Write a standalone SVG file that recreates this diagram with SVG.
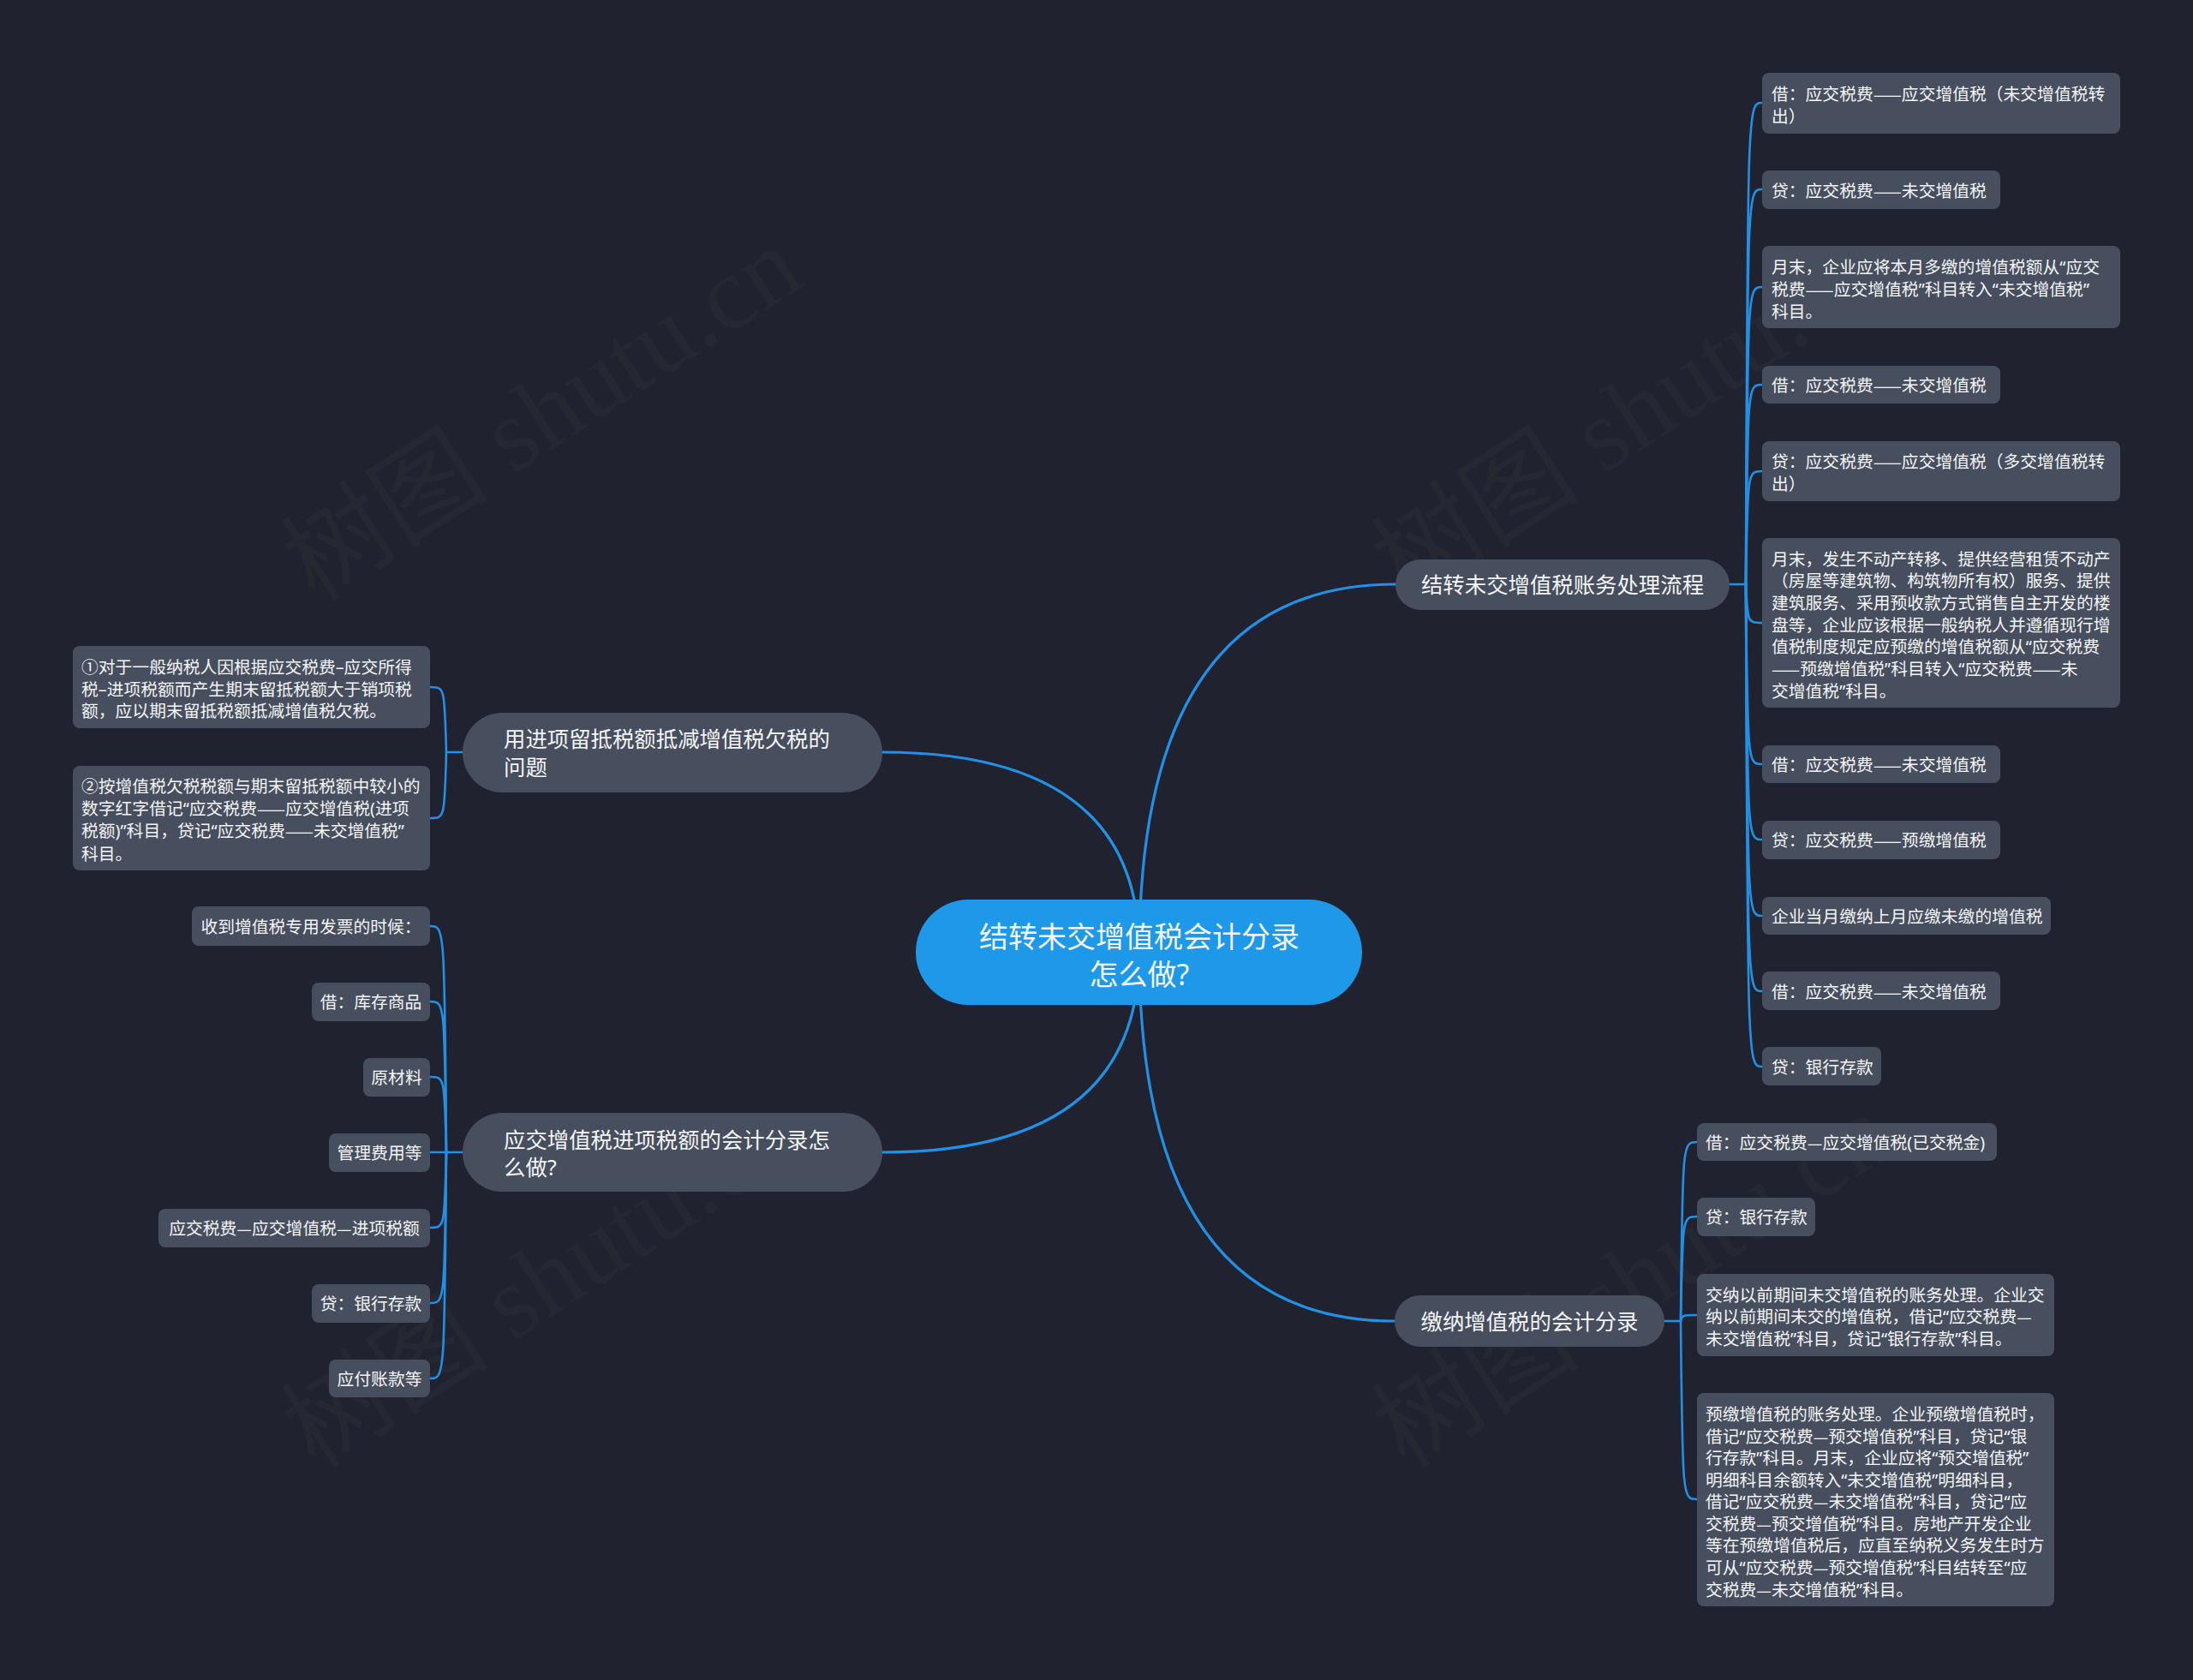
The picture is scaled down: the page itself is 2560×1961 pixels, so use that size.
<svg xmlns="http://www.w3.org/2000/svg" width="2560" height="1961" viewBox="0 0 2560 1961">
<defs>
<style>
.bg{fill:#20232f}
.nd{fill:#474e5e}
.ctr{fill:#1e98e9}
.ln{fill:none;stroke:#2290e4;stroke-width:2.6;stroke-linecap:round}
.mln{fill:none;stroke:#2290e4;stroke-width:3.2;stroke-linecap:round}
text{font-family:"Noto Sans","Noto Sans CJK SC",sans-serif;fill:#f4f5f7;dominant-baseline:central}
.d{font-family:"Noto Sans CJK SC",sans-serif}
.lt{font-size:19.8px}
.bt{font-size:25.4px}
.ct{font-size:34px;text-anchor:middle}
.mid{text-anchor:middle}
.wm{font-family:"Liberation Serif","Noto Sans CJK SC",serif;font-size:122px;fill:#ffffff;fill-opacity:0.025;dominant-baseline:alphabetic}
</style>
</defs>
<rect class="bg" x="0" y="0" width="2560" height="1961"/>
<g id="watermarks">
<text class="wm" transform="translate(368,704) rotate(-33)">树图 shutu.cn</text>
<text class="wm" transform="translate(1641,704) rotate(-33)">树图 shutu.cn</text>
<text class="wm" transform="translate(368,1716) rotate(-33)">树图 shutu.cn</text>
<text class="wm" transform="translate(1641,1716) rotate(-33)">树图 shutu.cn</text>
</g>
<g id="connectors">
<path class="mln" d="M1330 1111 Q1330 682 1629 682"/>
<path class="mln" d="M1330 1111 Q1330 1542 1628 1542"/>
<path class="mln" d="M1330 1111 Q1330 878 1030 878"/>
<path class="mln" d="M1330 1111 Q1330 1345 1030 1345"/>
<path class="ln" d="M2019 682 H2038"/>
<path class="ln" d="M2038 682 C2040 120,2040 120,2057 120"/>
<path class="ln" d="M2038 682 C2040 221,2040 221,2057 221"/>
<path class="ln" d="M2038 682 C2040 335,2040 335,2057 335"/>
<path class="ln" d="M2038 682 C2040 449,2040 449,2057 449"/>
<path class="ln" d="M2038 682 C2040 550,2040 550,2057 550"/>
<path class="ln" d="M2038 682 C2040 727,2040 727,2057 727"/>
<path class="ln" d="M2038 682 C2040 892,2040 892,2057 892"/>
<path class="ln" d="M2038 682 C2040 980,2040 980,2057 980"/>
<path class="ln" d="M2038 682 C2040 1069,2040 1069,2057 1069"/>
<path class="ln" d="M2038 682 C2040 1157,2040 1157,2057 1157"/>
<path class="ln" d="M2038 682 C2040 1245,2040 1245,2057 1245"/>
<path class="ln" d="M1943 1542 H1962"/>
<path class="ln" d="M1962 1542 C1964 1333,1964 1333,1981 1333"/>
<path class="ln" d="M1962 1542 C1964 1420,1964 1420,1981 1420"/>
<path class="ln" d="M1962 1542 C1964 1535,1964 1535,1981 1535"/>
<path class="ln" d="M1962 1542 C1964 1750,1964 1750,1981 1750"/>
<path class="ln" d="M540 878 H521"/>
<path class="ln" d="M521 878 C519 802,519 802,502 802"/>
<path class="ln" d="M521 878 C519 955,519 955,502 955"/>
<path class="ln" d="M540 1345 H521"/>
<path class="ln" d="M521 1345 C519 1081,519 1081,502 1081"/>
<path class="ln" d="M521 1345 C519 1169,519 1169,502 1169"/>
<path class="ln" d="M521 1345 C519 1257,519 1257,502 1257"/>
<path class="ln" d="M521 1345 C519 1345,519 1345,502 1345"/>
<path class="ln" d="M521 1345 C519 1433,519 1433,502 1433"/>
<path class="ln" d="M521 1345 C519 1521,519 1521,502 1521"/>
<path class="ln" d="M521 1345 C519 1609,519 1609,502 1609"/>
</g>
<g id="center">
<rect class="ctr" x="1069" y="1050" width="521" height="123" rx="61.5"/>
<text class="ct" x="1330" y="1093">结转未交增值税会计分录</text>
<text class="ct" x="1330" y="1137">怎么做?</text>
</g>
<g id="b1">
<rect class="nd" x="1629" y="653" width="390" height="59" rx="29.5"/>
<text class="bt mid" x="1824" y="682">结转未交增值税账务处理流程</text>
</g>
<g id="b2">
<rect class="nd" x="1628" y="1512" width="315" height="60" rx="30"/>
<text class="bt mid" x="1785.5" y="1542">缴纳增值税的会计分录</text>
</g>
<g id="b3">
<rect class="nd" x="540" y="832" width="490" height="93" rx="46.5"/>
<text class="bt" x="588" y="862">用进项留抵税额抵减增值税欠税的</text>
<text class="bt" x="588" y="895">问题</text>
</g>
<g id="b4">
<rect class="nd" x="540" y="1299" width="490" height="92" rx="46"/>
<text class="bt" x="588" y="1330">应交增值税进项税额的会计分录怎</text>
<text class="bt" x="588" y="1362">么做?</text>
</g>
<g id="b1l1"><rect class="nd" x="2057" y="85" width="418" height="71" rx="8"/>
<text class="lt" x="2068" y="109">借：应交税费<tspan class="d">——</tspan>应交增值税（未交增值税转</text>
<text class="lt" x="2068" y="135">出）</text></g>
<g id="b1l2"><rect class="nd" x="2057" y="199" width="278" height="45" rx="8"/>
<text class="lt" x="2068" y="222">贷：应交税费<tspan class="d">——</tspan>未交增值税</text></g>
<g id="b1l3"><rect class="nd" x="2057" y="287" width="418" height="96" rx="8"/>
<text class="lt" x="2068" y="311">月末，企业应将本月多缴的增值税额从“应交</text>
<text class="lt" x="2068" y="337">税费<tspan class="d">——</tspan>应交增值税”科目转入“未交增值税”</text>
<text class="lt" x="2068" y="363">科目。</text></g>
<g id="b1l4"><rect class="nd" x="2057" y="427" width="278" height="44" rx="8"/>
<text class="lt" x="2068" y="449">借：应交税费<tspan class="d">——</tspan>未交增值税</text></g>
<g id="b1l5"><rect class="nd" x="2057" y="515" width="418" height="70" rx="8"/>
<text class="lt" x="2068" y="538">贷：应交税费<tspan class="d">——</tspan>应交增值税（多交增值税转</text>
<text class="lt" x="2068" y="564">出）</text></g>
<g id="b1l6"><rect class="nd" x="2057" y="628" width="418" height="198" rx="8"/>
<text class="lt" x="2068" y="652">月末，发生不动产转移、提供经营租赁不动产</text>
<text class="lt" x="2068" y="677">（房屋等建筑物、构筑物所有权）服务、提供</text>
<text class="lt" x="2068" y="703">建筑服务、采用预收款方式销售自主开发的楼</text>
<text class="lt" x="2068" y="729">盘等，企业应该根据一般纳税人并遵循现行增</text>
<text class="lt" x="2068" y="754">值税制度规定应预缴的增值税额从“应交税费</text>
<text class="lt" x="2068" y="780"><tspan class="d">——</tspan>预缴增值税”科目转入“应交税费<tspan class="d">——</tspan>未</text>
<text class="lt" x="2068" y="806">交增值税”科目。</text></g>
<g id="b1l7"><rect class="nd" x="2057" y="870" width="278" height="44" rx="8"/>
<text class="lt" x="2068" y="892">借：应交税费<tspan class="d">——</tspan>未交增值税</text></g>
<g id="b1l8"><rect class="nd" x="2057" y="958" width="278" height="45" rx="8"/>
<text class="lt" x="2068" y="980">贷：应交税费<tspan class="d">——</tspan>预缴增值税</text></g>
<g id="b1l9"><rect class="nd" x="2057" y="1047" width="337" height="44" rx="8"/>
<text class="lt" x="2068" y="1069">企业当月缴纳上月应缴未缴的增值税</text></g>
<g id="b1l10"><rect class="nd" x="2057" y="1134" width="278" height="45" rx="8"/>
<text class="lt" x="2068" y="1157">借：应交税费<tspan class="d">——</tspan>未交增值税</text></g>
<g id="b1l11"><rect class="nd" x="2057" y="1222" width="139" height="45" rx="8"/>
<text class="lt" x="2068" y="1245">贷：银行存款</text></g>
<g id="b2l1"><rect class="nd" x="1981" y="1311" width="350" height="44" rx="8"/>
<text class="lt" x="1991" y="1333">借：应交税费<tspan class="d">—</tspan>应交增值税(已交税金)</text></g>
<g id="b2l2"><rect class="nd" x="1981" y="1398" width="138" height="45" rx="8"/>
<text class="lt" x="1991" y="1420">贷：银行存款</text></g>
<g id="b2l3"><rect class="nd" x="1981" y="1487" width="417" height="96" rx="8"/>
<text class="lt" x="1991" y="1511">交纳以前期间未交增值税的账务处理。企业交</text>
<text class="lt" x="1991" y="1536">纳以前期间未交的增值税，借记“应交税费<tspan class="d">—</tspan></text>
<text class="lt" x="1991" y="1562">未交增值税”科目，贷记“银行存款”科目。</text></g>
<g id="b2l4"><rect class="nd" x="1981" y="1626" width="417" height="249" rx="8"/>
<text class="lt" x="1991" y="1650">预缴增值税的账务处理。企业预缴增值税时，</text>
<text class="lt" x="1991" y="1676">借记“应交税费<tspan class="d">—</tspan>预交增值税”科目，贷记“银</text>
<text class="lt" x="1991" y="1701">行存款”科目。月末，企业应将“预交增值税”</text>
<text class="lt" x="1991" y="1727">明细科目余额转入“未交增值税”明细科目，</text>
<text class="lt" x="1991" y="1752">借记“应交税费<tspan class="d">—</tspan>未交增值税”科目，贷记“应</text>
<text class="lt" x="1991" y="1778">交税费<tspan class="d">—</tspan>预交增值税”科目。房地产开发企业</text>
<text class="lt" x="1991" y="1803">等在预缴增值税后，应直至纳税义务发生时方</text>
<text class="lt" x="1991" y="1829">可从“应交税费<tspan class="d">—</tspan>预交增值税”科目结转至“应</text>
<text class="lt" x="1991" y="1855">交税费<tspan class="d">—</tspan>未交增值税”科目。</text></g>
<g id="b3l1"><rect class="nd" x="85" y="754" width="417" height="96" rx="8"/>
<text class="lt" x="95" y="778">①对于一般纳税人因根据应交税费–应交所得</text>
<text class="lt" x="95" y="804">税–进项税额而产生期末留抵税额大于销项税</text>
<text class="lt" x="95" y="829">额，应以期末留抵税额抵减增值税欠税。</text></g>
<g id="b3l2"><rect class="nd" x="85" y="894" width="417" height="122" rx="8"/>
<text class="lt" x="95" y="917">②按增值税欠税税额与期末留抵税额中较小的</text>
<text class="lt" x="95" y="943">数字红字借记“应交税费<tspan class="d">——</tspan>应交增值税(进项</text>
<text class="lt" x="95" y="969">税额)”科目，贷记“应交税费<tspan class="d">——</tspan>未交增值税”</text>
<text class="lt" x="95" y="996">科目。</text></g>
<g id="b4l1"><rect class="nd" x="224" y="1058" width="278" height="46" rx="8"/>
<text class="lt mid" x="363" y="1081">收到增值税专用发票的时候：</text></g>
<g id="b4l2"><rect class="nd" x="364" y="1147" width="138" height="45" rx="8"/>
<text class="lt mid" x="433" y="1169">借：库存商品</text></g>
<g id="b4l3"><rect class="nd" x="424" y="1235" width="78" height="45" rx="8"/>
<text class="lt mid" x="463" y="1257">原材料</text></g>
<g id="b4l4"><rect class="nd" x="384" y="1323" width="118" height="45" rx="8"/>
<text class="lt mid" x="443" y="1345">管理费用等</text></g>
<g id="b4l5"><rect class="nd" x="185" y="1411" width="317" height="45" rx="8"/>
<text class="lt mid" x="343.5" y="1433">应交税费<tspan class="d">—</tspan>应交增值税<tspan class="d">—</tspan>进项税额</text></g>
<g id="b4l6"><rect class="nd" x="364" y="1499" width="138" height="45" rx="8"/>
<text class="lt mid" x="433" y="1521">贷：银行存款</text></g>
<g id="b4l7"><rect class="nd" x="384" y="1587" width="118" height="44" rx="8"/>
<text class="lt mid" x="443" y="1609">应付账款等</text></g>
</svg>
